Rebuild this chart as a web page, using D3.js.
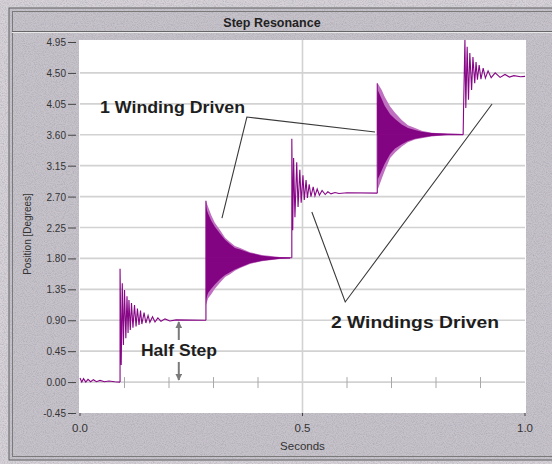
<!DOCTYPE html>
<html>
<head>
<meta charset="utf-8">
<script src="https://d3js.org/d3.v7.min.js"></script>
<style>
  body { margin: 0; background: #d2ced4; }
  svg { display: block; font-family: "Liberation Sans", Arial, sans-serif; }
</style>
</head>
<body>
<script>
// values: time in seconds, position in degrees

var yTicks = [-0.45, 0, 0.45, 0.9, 1.35, 1.8, 2.25, 2.7, 3.15, 3.6, 4.05, 4.5, 4.95];
var yTickLabels = ["-0.45", "0.00", "0.45", "0.90", "1.35", "1.80", "2.25", "2.70", "3.15", "3.60", "4.05", "4.50", "4.95"];
var xTicks = [0, 0.5, 1];
var xTickLabels = ["0.0", "0.5", "1.0"];
var xMinorTicks = [0.1, 0.2, 0.3, 0.4, 0.6, 0.7, 0.8, 0.9];

// rest + first half step (visible ringing)
var step0 = [[0, 0.06], [0.004, 0.0], [0.008, 0.05], [0.013, 0.0], [0.018, 0.04], [0.024, 0.005],
  [0.03, 0.035], [0.037, 0.005], [0.045, 0.025], [0.055, 0.005], [0.065, 0.015], [0.078, 0.005], [0.09, 0.0]];
var step1 = [[0.09, 0.0], [0.09, 1.65], [0.0926, 0.25], [0.095, 1.44], [0.0975, 0.54], [0.100, 1.34],
  [0.103, 0.64], [0.1056, 1.25], [0.108, 0.715], [0.110, 1.195], [0.113, 0.76], [0.1157, 1.15],
  [0.119, 0.79], [0.1225, 1.12], [0.126, 0.81], [0.129, 1.07], [0.1326, 0.83], [0.136, 1.04],
  [0.139, 0.845], [0.144, 1.01], [0.148, 0.86], [0.153, 0.97], [0.157, 0.87], [0.163, 0.95],
  [0.1685, 0.875], [0.175, 0.935], [0.182, 0.885], [0.191, 0.92], [0.202, 0.89], [0.216, 0.905], [0.283, 0.90]];

// 1 winding driven: ringing too fast to resolve -> envelopes [t, loOuter, loInner, hiInner, hiOuter]
var step2Line = [[0.283, 0.90], [0.283, 2.64], [0.284, 1.81], [0.476, 1.81]];
var step2Env = [
  [0.283, 1.12, 1.20, 2.55, 2.64], [0.288, 1.22, 1.30, 2.45, 2.55], [0.295, 1.28, 1.36, 2.35, 2.43],
  [0.303, 1.36, 1.42, 2.26, 2.32], [0.315, 1.45, 1.50, 2.16, 2.21], [0.326, 1.53, 1.56, 2.07, 2.10],
  [0.337, 1.57, 1.60, 2.01, 2.04], [0.348, 1.62, 1.64, 1.95, 1.98], [0.360, 1.66, 1.67, 1.93, 1.95],
  [0.382, 1.72, 1.73, 1.88, 1.89], [0.409, 1.76, 1.765, 1.84, 1.85], [0.449, 1.79, 1.795, 1.815, 1.82],
  [0.472, 1.80, 1.80, 1.81, 1.81]];

// 2 windings driven
var step3 = [[0.476, 1.81], [0.476, 3.54], [0.478, 2.21], [0.480, 3.26], [0.483, 2.40], [0.487, 3.20],
  [0.490, 2.55], [0.494, 3.09], [0.497, 2.61], [0.501, 3.01], [0.504, 2.65], [0.508, 2.94],
  [0.511, 2.68], [0.515, 2.88], [0.519, 2.70], [0.524, 2.84], [0.528, 2.71], [0.533, 2.81],
  [0.538, 2.72], [0.544, 2.79], [0.551, 2.73], [0.557, 2.77], [0.564, 2.74], [0.573, 2.76],
  [0.582, 2.745], [0.60, 2.755], [0.668, 2.75]];

var step4Line = [[0.668, 2.75], [0.668, 4.35], [0.669, 3.60], [0.861, 3.60]];
var step4Env = [
  [0.669, 2.80, 2.95, 4.25, 4.35], [0.678, 2.96, 3.08, 4.12, 4.25], [0.685, 3.08, 3.18, 4.02, 4.15],
  [0.697, 3.26, 3.32, 3.90, 4.01], [0.708, 3.34, 3.40, 3.83, 3.92], [0.723, 3.43, 3.46, 3.75, 3.815],
  [0.737, 3.49, 3.51, 3.70, 3.74], [0.753, 3.53, 3.54, 3.67, 3.70], [0.768, 3.55, 3.56, 3.645, 3.66],
  [0.790, 3.575, 3.58, 3.625, 3.63], [0.827, 3.595, 3.60, 3.615, 3.62], [0.861, 3.60, 3.60, 3.61, 3.61]];

var step5 = [[0.861, 3.60], [0.862, 3.99], [0.865, 4.99], [0.867, 3.99], [0.870, 4.88], [0.873, 4.11],
  [0.876, 4.79], [0.880, 4.25], [0.883, 4.73], [0.887, 4.35], [0.890, 4.66], [0.893, 4.40],
  [0.897, 4.615], [0.901, 4.41], [0.906, 4.57], [0.911, 4.425], [0.917, 4.53], [0.924, 4.43],
  [0.933, 4.50], [0.944, 4.435], [0.955, 4.477], [0.965, 4.44], [0.975, 4.46], [0.99, 4.445], [1.0, 4.45]];

// annotation callouts (data coords)
var calloutLines = [
  [[0.663, 3.64], [0.375, 3.858], [0.319, 2.388]],
  [[0.521, 2.476], [0.596, 1.166], [0.926, 4.048]]
];
var callouts = [
  { text: "1 Winding Driven", t: 0.045, v: 3.917, w: 145 },
  { text: "2 Windings Driven", t: 0.564, v: 0.787, w: 168 },
  { text: "Half Step", t: 0.137, v: 0.38, w: 76 }
];
var halfStepArrows = [
  { t: 0.222, from: 0.613, to: 0.875 },
  { t: 0.222, from: 0.293, to: 0.03 }
];

var W = 552, H = 464;
var plot = { left: 80, right: 525, top: 42, bottom: 413 };

var x = d3.scaleLinear().domain([0, 1]).range([plot.left, plot.right]);
var y = d3.scaleLinear().domain([-0.45, 4.95]).range([plot.bottom, plot.top]);

var svg = d3.select("body").append("svg")
  .attr("width", W).attr("height", H);

var defs = svg.append("defs");
var f = defs.append("filter").attr("id", "grain")
  .attr("x", 0).attr("y", 0).attr("width", "100%").attr("height", "100%");
f.append("feTurbulence").attr("type", "fractalNoise").attr("baseFrequency", 0.9)
  .attr("numOctaves", 2).attr("seed", 7);
f.append("feColorMatrix").attr("type", "matrix")
  .attr("values", "0 0 0 0 0.30  0 0 0 0 0.28  0 0 0 0 0.32  1.1 0 0 0 -0.42");

defs.append("clipPath").attr("id", "clip").append("rect")
  .attr("x", plot.left - 1).attr("y", plot.top - 2)
  .attr("width", plot.right - plot.left + 2).attr("height", plot.bottom - plot.top + 2);

// page + panel
svg.append("rect").attr("width", W).attr("height", H).attr("fill", "#d6d2d8");
svg.append("rect").attr("x", 9).attr("y", 8).attr("width", W).attr("height", 452)
  .attr("fill", "#c7c3cb").attr("stroke", "#5a5a5a");
svg.append("rect").attr("width", W).attr("height", H).attr("filter", "url(#grain)").attr("opacity", 0.8);
svg.append("rect").attr("x", 12.5).attr("y", 11.5).attr("width", W).attr("height", 445)
  .attr("fill", "none").attr("stroke", "#7a7a7a");
svg.append("line").attr("x1", 12).attr("x2", W).attr("y1", 31.5).attr("y2", 31.5)
  .attr("stroke", "#666");
svg.append("line").attr("x1", 12).attr("x2", W).attr("y1", 32.5).attr("y2", 32.5)
  .attr("stroke", "#e8e8e8");

svg.append("text").attr("x", 272).attr("y", 27)
  .attr("text-anchor", "middle").attr("font-weight", "bold").attr("font-size", "12.5px")
  .attr("fill", "#222").text("Step Resonance");

// plot area
svg.append("rect")
  .attr("x", plot.left - 1).attr("y", plot.top - 2)
  .attr("width", plot.right - plot.left + 2).attr("height", plot.bottom - plot.top + 2)
  .attr("fill", "#fff");

// grid
svg.append("g").selectAll("line")
  .data(yTicks.filter(function(d) { return d > -0.45 && d < 4.95; }))
  .join("line")
  .attr("x1", plot.left).attr("x2", plot.right)
  .attr("y1", function(d) { return y(d); }).attr("y2", function(d) { return y(d); })
  .attr("stroke", "#d2d2d2").attr("stroke-width", 1.6);
svg.append("line")
  .attr("x1", x(0.5)).attr("x2", x(0.5)).attr("y1", plot.top - 2).attr("y2", plot.bottom)
  .attr("stroke", "#d2d2d2").attr("stroke-width", 1.6);

// minor ticks riding on the zero line
svg.append("g").selectAll("line").data(xMinorTicks).join("line")
  .attr("x1", function(d) { return x(d); }).attr("x2", function(d) { return x(d); })
  .attr("y1", y(0) - 5).attr("y2", y(0) + 6)
  .attr("stroke", "#a8a8a8");

// y axis
var yAxis = svg.append("g");
yAxis.selectAll("line").data(yTicks).join("line")
  .attr("x1", 68).attr("x2", 76)
  .attr("y1", function(d) { return y(d) + 0.5; }).attr("y2", function(d) { return y(d) + 0.5; })
  .attr("stroke", "#444");
yAxis.selectAll("text").data(yTicks).join("text")
  .attr("x", 66).attr("y", function(d) { return y(d) + 4; })
  .attr("text-anchor", "end").attr("font-size", "10px").attr("fill", "#333")
  .text(function(d, i) { return yTickLabels[i]; });
svg.append("text")
  .attr("transform", "translate(31," + 234 + ") rotate(-90)")
  .attr("text-anchor", "middle").attr("font-size", "10px").attr("fill", "#333")
  .text("Position [Degrees]");

// x axis
var xAxis = svg.append("g");
xAxis.selectAll("line").data(xTicks).join("line")
  .attr("x1", function(d) { return x(d); }).attr("x2", function(d) { return x(d); })
  .attr("y1", plot.bottom).attr("y2", plot.bottom + 3)
  .attr("stroke", "#444");
xAxis.selectAll("text").data(xTicks).join("text")
  .attr("x", function(d) { return x(d); }).attr("y", 432)
  .attr("text-anchor", "middle").attr("font-size", "11.5px").attr("fill", "#333")
  .text(function(d, i) { return xTickLabels[i]; });
svg.append("text").attr("x", x(0.5)).attr("y", 450)
  .attr("text-anchor", "middle").attr("font-size", "11.5px").attr("fill", "#333")
  .text("Seconds");

// trace
var traceG = svg.append("g").attr("clip-path", "url(#clip)");
var line = d3.line().x(function(d) { return x(d[0]); }).y(function(d) { return y(d[1]); });

function envelope(rows, lo, hi) {
  return d3.area()
    .x(function(d) { return x(d[0]); })
    .y0(function(d) { return y(d[lo]); })
    .y1(function(d) { return y(d[hi]); })(rows);
}

[step2Env, step4Env].forEach(function(env) {
  traceG.append("path").attr("d", envelope(env, 1, 4)).attr("fill", "#c070c0");
  traceG.append("path").attr("d", envelope(env, 2, 3)).attr("fill", "#820482");
});

[step0, step1, step2Line, step3, step4Line, step5].forEach(function(seg) {
  traceG.append("path").attr("d", line(seg))
    .attr("fill", "none").attr("stroke", "#860686").attr("stroke-width", 1.1);
});

// callouts
svg.append("g").selectAll("path").data(calloutLines).join("path")
  .attr("d", line).attr("fill", "none").attr("stroke", "#3a3a3a").attr("stroke-width", 1.1);

svg.append("g").selectAll("text").data(callouts).join("text")
  .attr("x", function(d) { return x(d.t); }).attr("y", function(d) { return y(d.v); })
  .attr("font-size", "17px").attr("font-weight", "bold").attr("fill", "#1e1e1e")
  .attr("textLength", function(d) { return d.w; }).attr("lengthAdjust", "spacingAndGlyphs")
  .text(function(d) { return d.text; });

defs.append("marker").attr("id", "head").attr("viewBox", "0 0 10 10")
  .attr("refX", 9).attr("refY", 5).attr("markerWidth", 3.5).attr("markerHeight", 3.5)
  .attr("orient", "auto")
  .append("path").attr("d", "M0,0 L10,5 L0,10 z").attr("fill", "#7a7a7a");

svg.append("g").selectAll("line").data(halfStepArrows).join("line")
  .attr("x1", function(d) { return x(d.t); }).attr("x2", function(d) { return x(d.t); })
  .attr("y1", function(d) { return y(d.from); }).attr("y2", function(d) { return y(d.to); })
  .attr("stroke", "#7a7a7a").attr("stroke-width", 2).attr("marker-end", "url(#head)");
</script>
</body>
</html>
